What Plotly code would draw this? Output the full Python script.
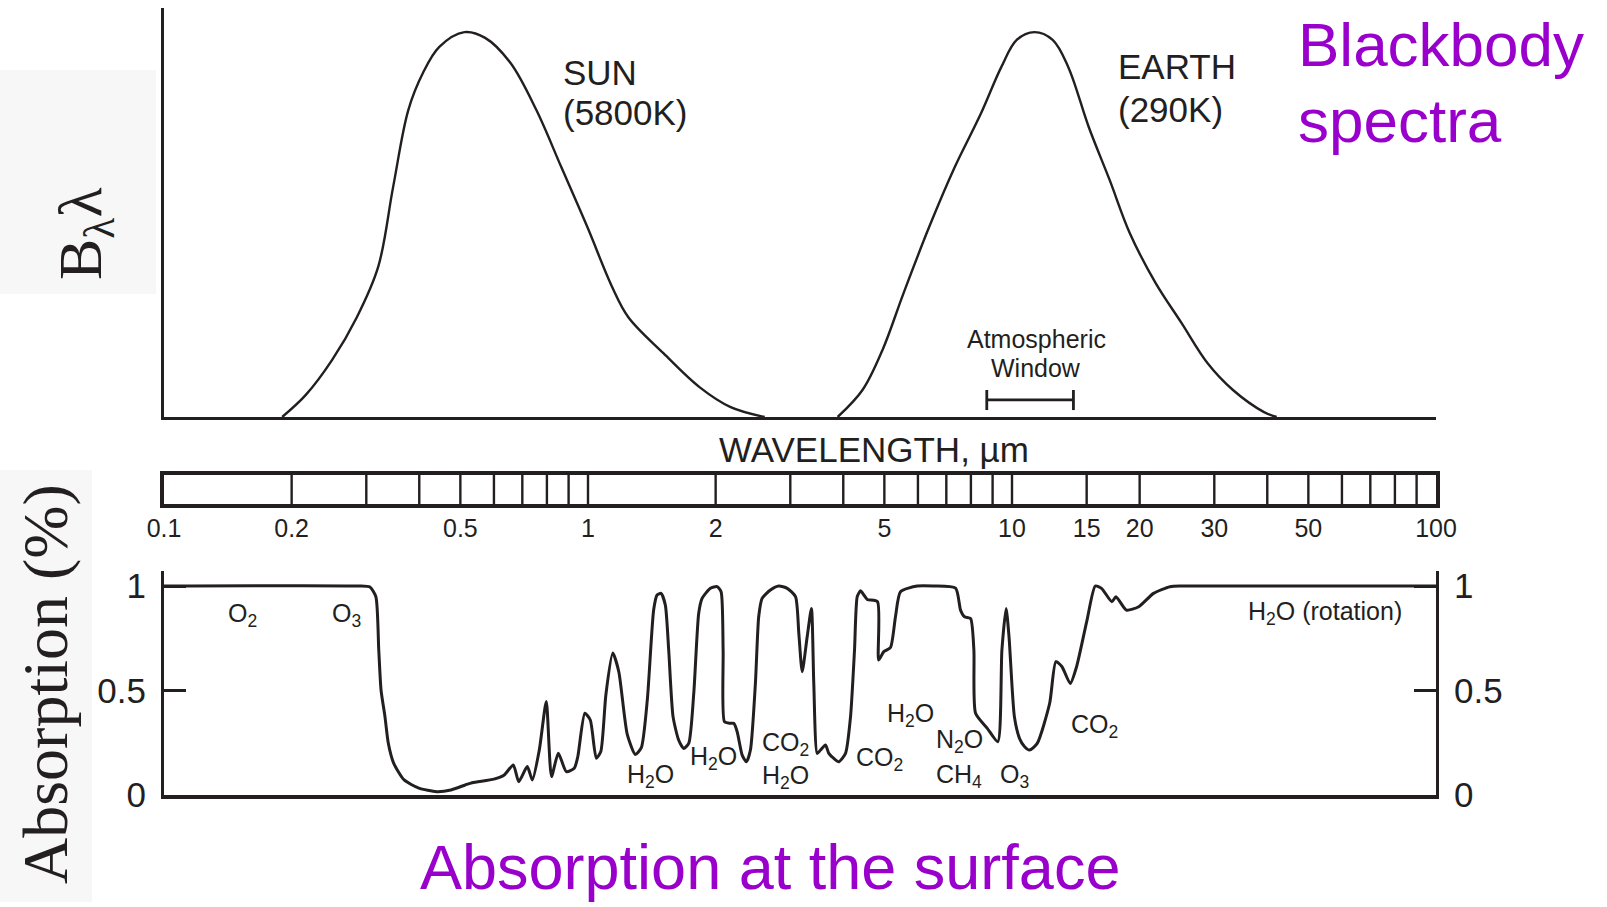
import math
import plotly.graph_objects as go

W, H = 1607, 907

# ---------------- data ----------------
# Blackbody curves (normalised B_lambda, wavelength in micrometres)
sun_wl = [0.190, 0.216, 0.249, 0.285, 0.320, 0.347, 0.377, 0.408, 0.446, 0.511, 0.572,
          0.656, 0.755, 0.865, 0.996, 1.14, 1.245, 1.506, 1.832, 2.17, 2.61]
sun_b = [0.0, 0.054, 0.139, 0.244, 0.367, 0.562, 0.751, 0.841, 0.905, 0.941, 0.927,
         0.866, 0.751, 0.611, 0.465, 0.318, 0.244, 0.156, 0.073, 0.024, 0.0]

earth_wl = [3.88, 4.44, 4.95, 5.55, 6.38, 7.32, 8.43, 9.44, 10.26, 11.3, 12.47,
            13.57, 15.17, 17.0, 18.95, 21.8, 25.1, 28.9, 33.2, 39.3, 42.1]
earth_b = [0.0, 0.066, 0.164, 0.303, 0.465, 0.610, 0.740, 0.856, 0.922, 0.941, 0.922,
           0.856, 0.709, 0.579, 0.450, 0.328, 0.230, 0.132, 0.066, 0.012, 0.0]

window_wl = [8.72, 13.96]
window_level = 0.042
window_cap = [0.017, 0.066]

# Absorption at the surface
abs_wl = [0.1, 0.287, 0.306, 0.316, 0.321, 0.325, 0.332, 0.338, 0.348, 0.3685, 0.399,
          0.4395, 0.475, 0.5134, 0.533, 0.600, 0.6345, 0.6665, 0.6865, 0.7191, 0.739,
          0.7676, 0.7973, 0.8202, 0.851, 0.889, 0.928, 0.946, 0.983, 1.0125, 1.046,
          1.072, 1.102, 1.144, 1.182, 1.2376, 1.293, 1.336, 1.380, 1.4283, 1.455,
          1.487, 1.522, 1.550, 1.587, 1.636, 1.681, 1.728, 1.776, 1.824, 1.858,
          1.944, 2.016, 2.060, 2.083, 2.098, 2.159, 2.207, 2.248, 2.310, 2.364,
          2.416, 2.482, 2.527, 2.574, 2.693, 2.818, 2.950, 3.086, 3.142, 3.200,
          3.288, 3.365, 3.408, 3.472, 3.535, 3.632, 3.698, 3.800, 3.905, 4.049,
          4.161, 4.252, 4.315, 4.393, 4.473, 4.556, 4.817, 4.848, 4.984, 5.169,
          5.311, 5.458, 5.977, 6.531, 7.360, 7.562, 7.728, 7.985, 8.130, 8.205,
          8.744, 9.258, 9.467, 9.685, 9.84, 10.13, 10.42, 10.71, 11.00, 11.47,
          12.27, 12.69, 13.12, 13.72, 14.20, 15.03, 15.72, 16.26, 17.20, 17.59,
          18.61, 19.90, 21.56, 23.58, 25.23, 100.0]
abs_val = [1.0, 1.0, 0.995, 0.949, 0.694, 0.502, 0.375, 0.249, 0.153, 0.072, 0.033,
           0.016, 0.024, 0.048, 0.059, 0.076, 0.096, 0.144, 0.064, 0.136, 0.072,
           0.215, 0.447, 0.088, 0.200, 0.112, 0.128, 0.183, 0.391, 0.359, 0.176,
           0.208, 0.480, 0.679, 0.590, 0.290, 0.194, 0.227, 0.455, 0.885, 0.957,
           0.965, 0.909, 0.694, 0.375, 0.263, 0.223, 0.247, 0.486, 0.869, 0.941,
           0.989, 0.997, 0.973, 0.694, 0.351, 0.343, 0.343, 0.303, 0.191, 0.159,
           0.215, 0.534, 0.853, 0.941, 0.981, 1.0, 0.989, 0.949, 0.774, 0.590,
           0.757, 0.893, 0.534, 0.199, 0.215, 0.239, 0.199, 0.175, 0.159, 0.199,
           0.375, 0.694, 0.949, 0.977, 0.957, 0.936, 0.925, 0.646, 0.686, 0.706,
           0.853, 0.973, 1.0, 1.0, 0.990, 0.885, 0.853, 0.845, 0.694, 0.391,
           0.319, 0.255, 0.694, 0.893, 0.757, 0.375, 0.270, 0.231, 0.215, 0.247,
           0.439, 0.638, 0.614, 0.534, 0.614, 0.837, 1.0, 0.989, 0.925, 0.949,
           0.885, 0.901, 0.965, 0.997, 1.0, 1.0]

# Wavelength scale bar
scale_lines = [0.2, 0.3, 0.4, 0.5, 0.6, 0.7, 0.8, 0.9, 1, 2, 3, 4, 5, 6, 7, 8, 9,
               10, 15, 20, 30, 40, 50, 60, 70, 80, 90]
scale_tickvals = [0.1, 0.2, 0.5, 1, 2, 5, 10, 15, 20, 30, 50, 100]
scale_ticktext = ["0.1", "0.2", "0.5", "1", "2", "5", "10", "15", "20", "30", "50", "100"]

abs_tickvals = [0, 0.5, 1]
abs_ticktext = ["0", "0.5", "1"]

# Gas labels (text, wavelength, absorption level)
gas_text = ["O<sub>2</sub>", "O<sub>3</sub>", "H<sub>2</sub>O (rotation)", "H<sub>2</sub>O",
            "H<sub>2</sub>O", "CO<sub>2</sub>", "H<sub>2</sub>O", "CO<sub>2</sub>",
            "H<sub>2</sub>O", "N<sub>2</sub>O", "CH<sub>4</sub>", "O<sub>3</sub>", "CO<sub>2</sub>"]
gas_wl = [0.153, 0.269, 54.8, 1.401, 1.973, 2.917, 2.917, 4.862, 5.753, 7.508, 7.508, 10.12, 15.63]
gas_val = [0.861, 0.861, 0.871, 0.091, 0.175, 0.245, 0.088, 0.170, 0.383, 0.258, 0.091, 0.091, 0.332]

# ---------------- styling / layout ----------------
INK = "#231f20"
PURPLE = "#9900cc"
SANS = "Liberation Sans, Arial, sans-serif"
SERIF = "Liberation Serif, Times New Roman, serif"


def px(x, y):
    return x / W, 1 - y / H


XL, XR = 164, 1436
xdom = [XL / W, XR / W]

fig = go.Figure()

# Blackbody curves
fig.add_trace(go.Scatter(x=sun_wl, y=sun_b, mode="lines", xaxis="x", yaxis="y",
                         line=dict(color=INK, width=2.4, shape="spline", smoothing=1.0),
                         hoverinfo="skip", showlegend=False))
fig.add_trace(go.Scatter(x=earth_wl, y=earth_b, mode="lines", xaxis="x", yaxis="y",
                         line=dict(color=INK, width=2.4, shape="spline", smoothing=1.0),
                         hoverinfo="skip", showlegend=False))
# Atmospheric window bar
wx = [window_wl[0], window_wl[0], None, window_wl[0], window_wl[1], None, window_wl[1], window_wl[1]]
wy = [window_cap[0], window_cap[1], None, window_level, window_level, None, window_cap[0], window_cap[1]]
fig.add_trace(go.Scatter(x=wx, y=wy, mode="lines", xaxis="x", yaxis="y",
                         line=dict(color=INK, width=2.8), hoverinfo="skip", showlegend=False))

# Scale bar internal lines
sx, sy = [], []
for v in scale_lines:
    sx += [v, v, None]
    sy += [0, 1, None]
fig.add_trace(go.Scatter(x=sx, y=sy, mode="lines", xaxis="x3", yaxis="y3",
                         line=dict(color=INK, width=2.4), hoverinfo="skip", showlegend=False))

# Absorption curve
fig.add_trace(go.Scatter(x=abs_wl, y=abs_val, mode="lines", xaxis="x2", yaxis="y2",
                         line=dict(color=INK, width=3, shape="spline", smoothing=0.6),
                         hoverinfo="skip", showlegend=False))
# invisible trace for right-hand axis
fig.add_trace(go.Scatter(x=[1], y=[0.5], mode="markers", xaxis="x2", yaxis="y4",
                         marker=dict(opacity=0), hoverinfo="skip", showlegend=False))

noax = dict(showgrid=False, zeroline=False, automargin=False)

top_y0, top_y1 = 417, 8
bar_y0, bar_y1 = 504, 474.5
bot_y0, bot_y1 = 795, 571

fig.update_layout(
    template="none",
    width=W, height=H, autosize=False,
    margin=dict(l=0, r=0, t=0, b=0, pad=0),
    paper_bgcolor="white", plot_bgcolor="rgba(0,0,0,0)",
    font=dict(family=SANS, color=INK),
    xaxis=dict(type="log", range=[-1, 2], domain=xdom, anchor="y", showline=True,
               linecolor=INK, linewidth=3, ticks="", showticklabels=False, **noax),
    yaxis=dict(range=[0, 1], domain=[1 - top_y0 / H, 1 - top_y1 / H], anchor="x",
               showline=True, linecolor=INK, linewidth=2.6, ticks="",
               showticklabels=False, **noax),
    xaxis3=dict(type="log", range=[-1, 2], domain=xdom, anchor="y3", showline=True,
                mirror=True, linecolor=INK, linewidth=3.5, ticks="", side="bottom",
                tickvals=scale_tickvals, ticktext=scale_ticktext,
                tickfont=dict(family=SANS, size=25, color=INK), ticklabelstandoff=-1, **noax),
    yaxis3=dict(range=[0, 1], domain=[1 - bar_y0 / H, 1 - bar_y1 / H], anchor="x3",
                showline=True, mirror=True, linecolor=INK, linewidth=3.5, ticks="",
                showticklabels=False, **noax),
    xaxis2=dict(type="log", range=[-1, 2], domain=xdom, anchor="y2", showline=True,
                linecolor=INK, linewidth=3.5, ticks="", showticklabels=False, **noax),
    yaxis2=dict(range=[0, 1.072], domain=[1 - bot_y0 / H, 1 - bot_y1 / H], anchor="x2",
                showline=True, linecolor=INK, linewidth=3, ticks="inside", ticklen=22,
                tickwidth=3, tickcolor=INK, tickvals=abs_tickvals, ticktext=abs_ticktext,
                tickfont=dict(family=SANS, size=35, color=INK), ticklabelstandoff=8, **noax),
    yaxis4=dict(range=[0, 1.072], overlaying="y2", side="right", anchor="x2",
                showline=True, linecolor=INK, linewidth=3, ticks="inside", ticklen=22,
                tickwidth=3, tickcolor=INK, tickvals=abs_tickvals, ticktext=abs_ticktext,
                tickfont=dict(family=SANS, size=35, color=INK), ticklabelstandoff=8, **noax),
)

# grey label boxes
fig.add_shape(type="rect", xref="paper", yref="paper", x0=0, x1=156 / W,
              y0=1 - 294 / H, y1=1 - 70 / H, fillcolor="#f7f7f7", line=dict(width=0), layer="below")
fig.add_shape(type="rect", xref="paper", yref="paper", x0=0, x1=92 / W,
              y0=1 - 902 / H, y1=1 - 470 / H, fillcolor="#f7f7f7", line=dict(width=0), layer="below")

ann = []


def text(x, y, s, size, color=INK, family=SANS, xanchor="center", angle=0):
    ax, ay = px(x, y)
    ann.append(dict(x=ax, y=ay, xref="paper", yref="paper", text=s, showarrow=False,
                    xanchor=xanchor, yanchor="middle", textangle=angle,
                    font=dict(family=family, size=size, color=color)))


text(561, 72, "SUN", 35, xanchor="left")
text(561, 112, "(5800K)", 35, xanchor="left")
text(1116, 66, "EARTH", 35, xanchor="left")
text(1116, 109, "(290K)", 35, xanchor="left")
text(1036, 339, "Atmospheric", 25)
text(1036, 368, "Window", 25)
text(1296, 44, "Blackbody", 62, color=PURPLE, xanchor="left")
text(1296, 120, "spectra", 62, color=PURPLE, xanchor="left")
text(874, 449, "WAVELENGTH, µm", 35)
text(770, 867, "Absorption at the surface", 63, color=PURPLE)
text(84, 234, "B<sub>λ</sub>λ", 62, family=SERIF, angle=-90)
text(45, 684, "Absorption (%)", 64, family=SERIF, angle=-90)

for t, wl, v in zip(gas_text, gas_wl, gas_val):
    ann.append(dict(x=math.log10(wl), y=v, xref="x2", yref="y2", text=t, showarrow=False,
                    xanchor="center", yanchor="middle",
                    font=dict(family=SANS, size=25, color=INK)))

fig.update_layout(annotations=ann)

fig.write_html("out.html", config={"displayModeBar": False},
               post_script="document.body.style.margin='0';document.body.style.overflow='hidden';")
